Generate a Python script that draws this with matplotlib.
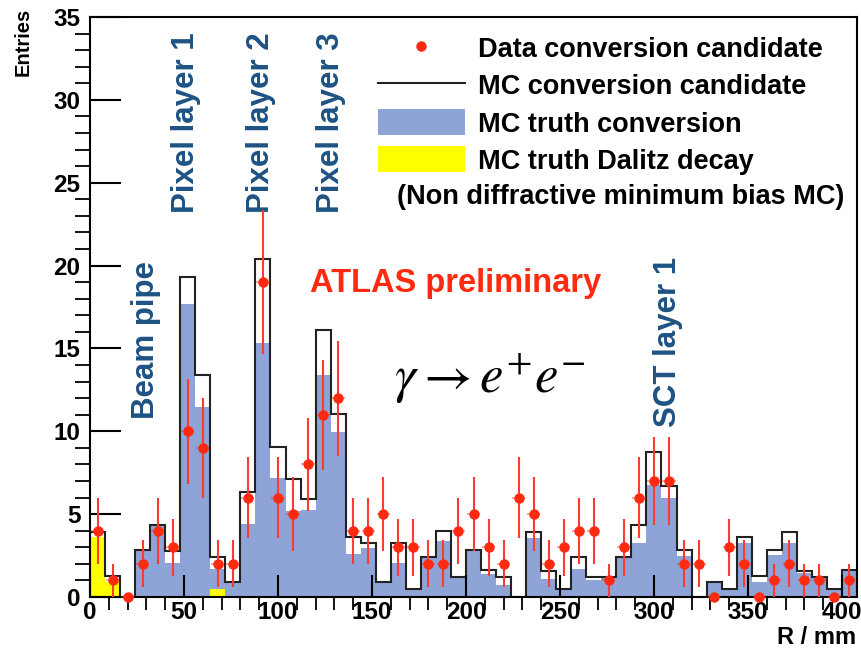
import numpy as np
import matplotlib
matplotlib.use("Agg")
import matplotlib.pyplot as plt
from matplotlib.lines import Line2D
from matplotlib.patches import Patch

# 8 mm bins from 0 to 408 mm
bin_edges = np.arange(0, 409, 8)

data_counts = [4, 1, 0, 2, 4, 3, 10, 9, 2, 2, 6, 19, 6, 5, 8, 11, 12, 4, 4, 5,
               3, 3, 2, 2, 4, 5, 3, 2, 6, 5, 2, 3, 4, 4, 1, 3, 6, 7, 7, 2,
               2, 0, 3, 2, 0, 1, 2, 1, 1, 0, 1]

mc_candidate = [3.94, 1.29, 0, 2.84, 4.37, 2.8, 19.3, 13.4, 2.43, 0.89, 6.36, 20.4,
                9.07, 7.12, 5.91, 16.1, 11.07, 3.6, 3.24, 0.93, 3.24, 0.48, 2.43,
                3.96, 1.23, 2.84, 1.62, 1.23, 0, 3.94, 1.56, 0.47, 2.43, 1.23, 1.23,
                2.43, 4.35, 8.74, 6.7, 2.84, 0, 0.88, 0.46, 3.62, 1.25, 2.84, 3.94,
                1.57, 1.23, 0.46, 1.63]

mc_truth_conv = [0, 0, 0, 2.84, 4.3, 2.05, 17.7, 11.45, 1.67, 0.89, 4.4, 15.35,
                 7.16, 5.2, 5.22, 13.4, 9.96, 2.6, 2.94, 0.9, 2.07, 0.47, 2.43,
                 3.35, 1.2, 2.84, 1.4, 0.7, 0, 3.57, 1.1, 0.46, 1.7, 1.0, 1.2,
                 2.43, 3.24, 6.73, 5.97, 2.45, 0, 0.85, 0.46, 3.28, 0.93, 2.53,
                 3.24, 1.43, 1.2, 0.46, 1.6]

mc_dalitz = [3.64, 0.92, 0, 0, 0, 0, 0, 0, 0.5, 0, 0, 0, 0, 0, 0, 0, 0, 0, 0, 0,
             0, 0, 0, 0, 0, 0, 0, 0, 0, 0, 0, 0, 0, 0, 0, 0, 0, 0, 0, 0,
             0, 0, 0, 0, 0, 0, 0, 0, 0, 0, 0]

layer_labels = ["Beam pipe", "Pixel layer 1", "Pixel layer 2", "Pixel layer 3", "SCT layer 1"]
layer_pos = [(29.8, 15.5), (51, 28.6), (91, 28.6), (128.2, 28.6), (307.5, 15.4)]

plt.rcParams["font.family"] = ["Liberation Sans", "DejaVu Sans"]
plt.rcParams["mathtext.fontset"] = "stix"

BLUE = "#8ea4d6"
RED = "#ff2a10"
TXTBLUE = "#1d5283"

fig = plt.figure(figsize=(8.61, 6.55), dpi=100)
ax = fig.add_axes([90 / 861, 1 - 597 / 655, 767 / 861, 580 / 655])

centers = 0.5 * (bin_edges[1:] + bin_edges[:-1])
counts = np.array(data_counts, dtype=float)

ax.stairs(mc_truth_conv, bin_edges, fill=True, color=BLUE, zorder=1)
ax.stairs(mc_dalitz, bin_edges, fill=True, color="#ffff00", zorder=1.2)
ax.stairs(mc_candidate, bin_edges, color="#222222", lw=1.5, zorder=1.5)
ax.axhline(0, color="#8c8a3c", lw=2, zorder=1.6)

# data points with sqrt(N) errors
ax.errorbar(centers, counts, xerr=3.5, fmt="none", ecolor=RED, elinewidth=1.2,
            alpha=0.5, zorder=3, clip_on=False)
ax.errorbar(centers, counts, yerr=np.sqrt(counts), fmt="o", color=RED, ms=6.5,
            elinewidth=1.5, ecolor="#ff3a30", capsize=0, zorder=3.1, clip_on=False)

ax.set_xlim(0, 408)
ax.set_ylim(0, 35)
ax.set_xticks(np.arange(0, 401, 50))
ax.set_xticks(np.arange(0, 408, 10), minor=True)
ax.set_yticks(np.arange(0, 36, 5))
ax.set_yticks(np.arange(0, 36, 1), minor=True)
ax.tick_params(direction="in", labelsize=17.5, width=1.5, pad=7)
ax.tick_params(axis="y", which="major", length=22)
ax.tick_params(axis="y", which="minor", length=11, width=1.3)
ax.tick_params(axis="x", which="major", length=16, pad=3)
ax.tick_params(axis="x", which="minor", length=9, width=1.3)
for lab in ax.get_xticklabels() + ax.get_yticklabels():
    lab.set_fontweight("bold")
for s in ax.spines.values():
    s.set_linewidth(1.5)

fig.text(23 / 861, 1 - 8 / 655, "Entries", rotation=90, ha="center", va="top",
         fontsize=14.5, fontweight="bold")
fig.text(856 / 861, 1 - 638 / 655, "R / mm", ha="right", va="center",
         fontsize=17, fontweight="bold")

for lab, (x, y) in zip(layer_labels, layer_pos):
    ax.text(x, y, lab, rotation=90, ha="center", va="center", fontsize=22.5,
            fontweight="bold", color=TXTBLUE)

ax.text(117, 18.9, "ATLAS preliminary", ha="left", va="center", fontsize=23.5,
        fontweight="bold", color=RED)
ax.text(213, 13.2, r"$\gamma \rightarrow e^{+}e^{-}$", ha="center", va="center",
        fontsize=38, color="black")

handles = [
    Line2D([], [], marker="o", ls="none", color=RED, ms=6.5),
    Line2D([], [], color="#222222", lw=1.5),
    Patch(facecolor=BLUE, edgecolor="none"),
    Patch(facecolor="#ffff00", edgecolor="none"),
]
labels = ["Data conversion candidate", "MC conversion candidate",
          "MC truth conversion", "MC truth Dalitz decay"]
leg = ax.legend(handles, labels, loc="upper left",
                bbox_to_anchor=((378 - 90) / 767, (597 - 35) / 580),
                frameon=False, fontsize=19.5, handlelength=3.2, handleheight=1.1,
                handletextpad=0.5, labelspacing=0.33, borderpad=0,
                borderaxespad=0)
for t in leg.get_texts():
    t.set_fontweight("bold")
ax.text((397 - 90) / 767, (597 - 197) / 580, "(Non diffractive minimum bias MC)",
        transform=ax.transAxes, ha="left", va="center", fontsize=19.5,
        fontweight="bold")

fig.savefig("out.png", dpi=100)
